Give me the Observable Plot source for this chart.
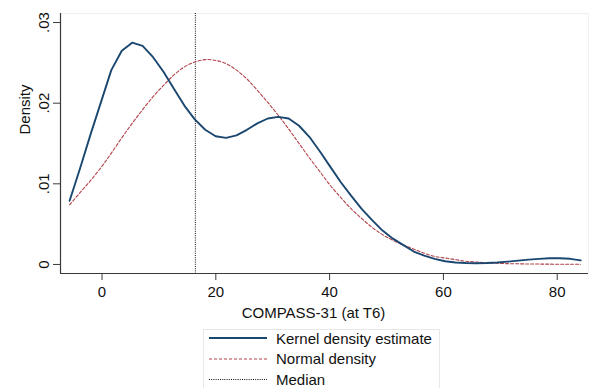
<!DOCTYPE html>
<html>
<head>
<meta charset="utf-8">
<script src="https://cdn.jsdelivr.net/npm/d3@7"></script>
<script src="https://cdn.jsdelivr.net/npm/@observablehq/plot@0.6"></script>
<style>
  html, body { margin: 0; padding: 0; background: #fff; }
  #wrap { position: relative; width: 590px; height: 388px; overflow: hidden; font-family: "Liberation Sans", Arial, sans-serif; }
  #legend { position: absolute; left: 0; top: 325px; }
</style>
</head>
<body>
<div id="wrap"><div id="chart"></div><div id="legend"></div></div>
<script>
// Evaluation points (50, as Stata kdensity draws them)
const gridX = [-5.7, -3.87, -2.03, -0.2, 1.63, 3.47, 5.3, 7.13, 8.97, 10.8, 12.63, 14.47, 16.3, 18.13, 19.97, 21.8, 23.63, 25.47, 27.3, 29.13, 30.97, 32.8, 34.63, 36.47, 38.3, 40.13, 41.97, 43.8, 45.63, 47.47, 49.3, 51.13, 52.97, 54.8, 56.63, 58.47, 60.3, 62.13, 63.97, 65.8, 67.63, 69.47, 71.3, 73.13, 74.97, 76.8, 78.63, 80.47, 82.3, 84.13];
// Kernel density estimate
const kdeY = [0.0079, 0.0119, 0.0161, 0.0201, 0.0241, 0.0265, 0.0275, 0.0271, 0.0257, 0.0239, 0.0218, 0.0197, 0.0180, 0.0167, 0.0159, 0.0157, 0.0160, 0.0167, 0.0175, 0.0181, 0.0183, 0.0181, 0.0172, 0.0158, 0.0140, 0.0121, 0.0102, 0.0085, 0.0069, 0.0055, 0.0042, 0.0032, 0.0024, 0.0016, 0.0011, 0.0007, 0.0004, 0.00025, 0.00018, 0.00015, 0.00018, 0.00025, 0.00035, 0.00047, 0.0006, 0.0007, 0.00078, 0.00078, 0.0007, 0.0005];
// Normal density
const normY = [0.0074, 0.0089, 0.0104, 0.0120, 0.0138, 0.0157, 0.0175, 0.0192, 0.0208, 0.0222, 0.0235, 0.0245, 0.0251, 0.0254, 0.0253, 0.0249, 0.0241, 0.0230, 0.0216, 0.0201, 0.0185, 0.0168, 0.0150, 0.0132, 0.0115, 0.0098, 0.0083, 0.0069, 0.0057, 0.0046, 0.0037, 0.0030, 0.0024, 0.0019, 0.0014, 0.0010, 0.0008, 0.0006, 0.0004, 0.0003, 0.0002, 0.00015, 0.0001, 0.00008, 0.00006, 0.00005, 0.00004, 0.00003, 0.00002, 0.00002];
const medianValue = [16.4];

const xTicks = [0, 20, 40, 60, 80];
const yTicks = [0, 0.01, 0.02, 0.03];
const yTickLabels = ["0", ".01", ".02", ".03"];
const xDomain = [-7.3, 85.5];
const yDomain = [-0.00112, 0.03112];
const xTitle = "COMPASS-31 (at T6)";
const yTitle = "Density";
const legendLabels = ["Kernel density estimate", "Normal density", "Median"];

const navy = "#1a476f";
const maroon = "#b0434b";
const axisColor = "#3a3a3a";
const font = "'Liberation Sans', Arial, sans-serif";

const kde = gridX.map((x, i) => ({x, y: kdeY[i]}));
const norm = gridX.map((x, i) => ({x, y: normY[i]}));

const chart = Plot.plot({
  width: 590,
  height: 325,
  marginLeft: 60,
  marginRight: 2,
  marginTop: 13,
  marginBottom: 52,
  style: {fontFamily: font, fontSize: "15px", color: "#111", background: "#fff"},
  x: {domain: xDomain},
  y: {domain: yDomain},
  marks: [
    Plot.frame({stroke: "#eef0f3"}),
    Plot.ruleX(medianValue, {stroke: "#111", strokeWidth: 1, strokeDasharray: "1,1.2"}),
    Plot.line(norm, {x: "x", y: "y", stroke: maroon, strokeWidth: 1.1, strokeDasharray: "3,2", curve: "catmull-rom"}),
    Plot.line(kde, {x: "x", y: "y", stroke: navy, strokeWidth: 1.9, strokeLinejoin: "round"}),
    Plot.ruleX([xDomain[0]], {stroke: axisColor, strokeWidth: 1.2}),
    Plot.ruleY([yDomain[0]], {stroke: axisColor, strokeWidth: 1.2}),
    Plot.axisX({ticks: xTicks, tickSize: 7, tickPadding: 6, stroke: axisColor, fill: "#111", fontSize: 15, label: null}),
    Plot.axisY({ticks: yTicks, tickSize: 7, tickPadding: 5, tickRotate: -90, stroke: axisColor, fill: "#111", fontSize: 15, label: null,
      tickFormat: d => yTickLabels[yTicks.indexOf(d)]}),
    Plot.text([xTitle], {frameAnchor: "bottom", dy: 44, dx: -11, lineAnchor: "bottom", fontSize: 15, fill: "#111"}),
    Plot.text([yTitle], {frameAnchor: "left", dx: -31, dy: -9, rotate: -90, lineAnchor: "bottom", fontSize: 15, fill: "#111"})
  ]
});
document.getElementById("chart").appendChild(chart);

// Legend below the plot
const lg = d3.select("#legend").append("svg").attr("width", 590).attr("height", 63)
  .style("font-family", font).style("font-size", "15px");
lg.append("rect").attr("x", 203.5).attr("y", 4.5).attr("width", 236).attr("height", 80)
  .attr("fill", "#fff").attr("stroke", "#e6e8ec");
const rowsY = [13, 34, 54.5];
const baseY = [19, 38.5, 60];
const styles = [
  {stroke: navy, width: 1.8, dash: null},
  {stroke: maroon, width: 1.1, dash: "3,2"},
  {stroke: "#111", width: 1, dash: "1,1.2"}
];
legendLabels.forEach((lab, i) => {
  lg.append("line").attr("x1", 209).attr("x2", 267).attr("y1", rowsY[i]).attr("y2", rowsY[i])
    .attr("stroke", styles[i].stroke).attr("stroke-width", styles[i].width)
    .attr("stroke-dasharray", styles[i].dash);
  lg.append("text").attr("x", 276).attr("y", baseY[i]).attr("fill", "#111").text(lab);
});
</script>
</body>
</html>
